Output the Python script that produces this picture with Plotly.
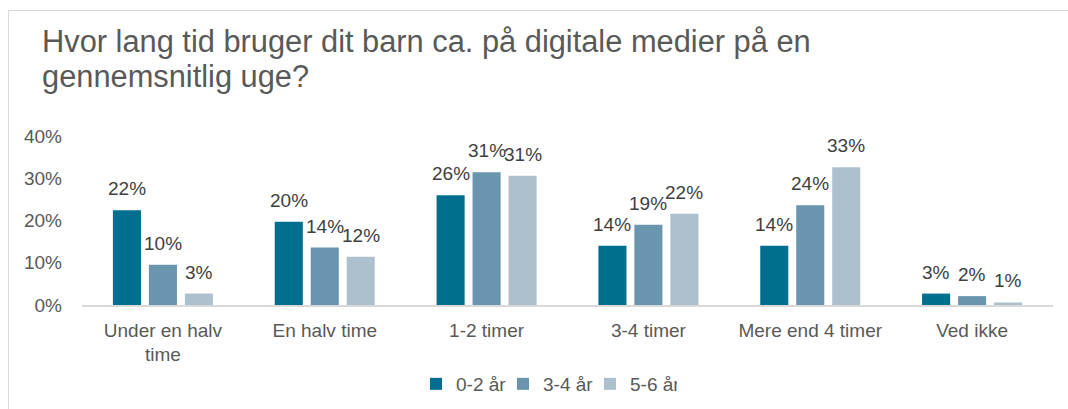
import plotly.graph_objects as go

categories = ["Under en halv<br>time", "En halv time", "1-2 timer", "3-4 timer", "Mere end 4 timer", "Ved ikke"]
series_names = ["0-2 år", "3-4 år", "5-6 år"]
values_02 = [22.4, 19.7, 26.0, 14.0, 14.0, 2.7]
values_34 = [9.5, 13.6, 31.4, 19.0, 23.6, 2.1]
values_56 = [2.7, 11.4, 30.6, 21.6, 32.6, 0.6]
labels_02 = ["22%", "20%", "26%", "14%", "14%", "3%"]
labels_34 = ["10%", "14%", "31%", "19%", "24%", "2%"]
labels_56 = ["3%", "12%", "31%", "22%", "33%", "1%"]
y_ticks = [0, 10, 20, 30, 40]
y_tick_labels = ["0%", "10%", "20%", "30%", "40%"]
title_lines = ["Hvor lang tid bruger dit barn ca. på digitale medier på en", "gennemsnitlig uge?"]
colors = ["#006E8F", "#6A95AF", "#ADC0CE"]

W, H = 1068, 409
ml, mr, mt, mb = 82, 15, 136, 104
pw, ph = W - ml - mr, H - mt - mb

FONT = "Arial, Liberation Sans, sans-serif"


def px_to_paper_x(px):
    return (px - ml) / pw


def px_to_paper_y(py):
    return (H - mb - py) / ph


fig = go.Figure()
all_vals = [values_02, values_34, values_56]
all_labels = [labels_02, labels_34, labels_56]
for name, vals, col in zip(series_names, all_vals, colors):
    fig.add_trace(go.Bar(x=categories, y=vals, name=name, marker_color=col,
                         marker_line_width=0, hoverinfo="skip"))

slot = pw / len(categories)
bargap = 0.333
sub = slot * (1 - bargap) / 3
offsets = [-sub, 0, sub]
annotations = []
for vals, labs, off in zip(all_vals, all_labels, offsets):
    for c, v, t in zip(categories, vals, labs):
        annotations.append(dict(x=c, y=v, xref="x", yref="y", text=t, showarrow=False,
                                xshift=off, yshift=9, yanchor="bottom", xanchor="center",
                                font=dict(size=19, color="#404040", family=FONT)))

# title as two text lines (baselines ~52 and ~87 px)
for line, base in zip(title_lines, [52.3, 86.7]):
    annotations.append(dict(x=px_to_paper_x(40), y=px_to_paper_y(base - 10.6),
                            xref="paper", yref="paper", text=line, showarrow=False,
                            xanchor="left", yanchor="middle", align="left",
                            font=dict(size=30.8, color="#595959", family=FONT)))

shapes = [
    dict(type="line", xref="paper", yref="paper", x0=px_to_paper_x(8.5), x1=px_to_paper_x(8.5),
         y0=px_to_paper_y(H + 5), y1=px_to_paper_y(10.5), line=dict(color="#D9D9D9", width=1)),
    dict(type="line", xref="paper", yref="paper", x0=px_to_paper_x(8.5), x1=px_to_paper_x(W + 5),
         y0=px_to_paper_y(10.5), y1=px_to_paper_y(10.5), line=dict(color="#D9D9D9", width=1)),
]

fig.update_layout(
    width=W, height=H,
    margin=dict(l=ml, r=mr, t=mt, b=mb, pad=0, autoexpand=False),
    paper_bgcolor="white", plot_bgcolor="white",
    barmode="group", bargap=bargap, bargroupgap=0.22,
    font=dict(family=FONT, color="#595959"),
    xaxis=dict(showline=True, linecolor="#D9D9D9", linewidth=1.5, showgrid=False,
               ticks="", ticklabelstandoff=7, tickfont=dict(size=19, color="#595959"),
               fixedrange=True),
    yaxis=dict(range=[0, 40], tickvals=y_ticks, ticktext=y_tick_labels, showgrid=False,
               zeroline=False, showline=False, ticks="", ticklabelstandoff=19,
               tickfont=dict(size=19, color="#595959"), fixedrange=True),
    legend=dict(orientation="h", x=px_to_paper_x(416), xanchor="left",
                y=px_to_paper_y(384), yanchor="middle",
                font=dict(size=19, color="#595959"), itemwidth=30,
                entrywidth=42, entrywidthmode="pixels", tracegroupgap=0),
    annotations=annotations,
    shapes=shapes,
    showlegend=True,
)

fig.write_html("out.html", config={"displayModeBar": False},
               post_script="document.body.style.margin='0px';")
